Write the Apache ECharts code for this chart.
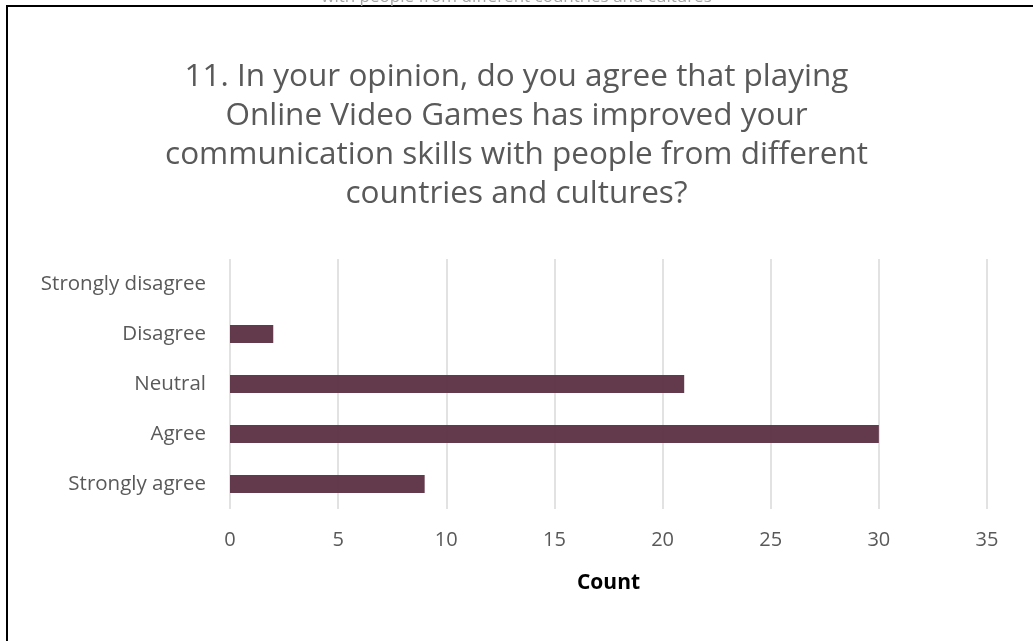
<!DOCTYPE html>
<html>
<head>
<meta charset="utf-8">
<script src="https://cdn.jsdelivr.net/npm/echarts@6/dist/echarts.min.js"></script>
<style>
  html, body { margin: 0; padding: 0; background: #fff; }
  #chart { width: 1033px; height: 641px; }
</style>
</head>
<body>
<div id="chart"></div>
<script>
// Survey responses, listed bottom-to-top on the category axis
const categories = ['Strongly agree', 'Agree', 'Neutral', 'Disagree', 'Strongly disagree'];
const counts = [9, 30, 21, 2, 0];
const xTicks = { min: 0, max: 35, interval: 5 };

const titleLines = [
  '11. In your opinion, do you agree that playing',
  'Online Video Games has improved your',
  'communication skills with people from different',
  'countries and cultures?'
];
const pageHeading = 'with people from different countries and cultures';
const axisName = 'Count';

const font = '"Open Sans", "Noto Sans", sans-serif';

const chart = echarts.init(document.getElementById('chart'), null, { renderer: 'canvas' });
chart.setOption({
  backgroundColor: '#ffffff',
  animation: false,
  title: {
    text: titleLines.join('\n'),
    left: 'center',
    top: 53,
    textStyle: {
      fontFamily: font,
      fontSize: 31.5,
      fontWeight: 'normal',
      color: '#595959',
      lineHeight: 39
    }
  },
  graphic: [
    {
      type: 'rect',
      shape: { x: 7, y: 6, width: 1100, height: 700 },
      style: { fill: 'none', stroke: '#000', lineWidth: 2 },
      silent: true
    },
    {
      type: 'text',
      left: 'center',
      top: -11,
      style: {
        text: pageHeading,
        fontFamily: font,
        fontSize: 17,
        fill: '#a6a6a6'
      },
      silent: true
    }
  ],
  grid: { left: 230, right: 46, top: 259, bottom: 132, containLabel: false },
  xAxis: {
    type: 'value',
    min: xTicks.min,
    max: xTicks.max,
    interval: xTicks.interval,
    name: axisName,
    nameLocation: 'middle',
    nameGap: 64,
    nameTextStyle: { fontFamily: font, fontSize: 21, fontWeight: 'bold', color: '#000' },
    axisLine: { show: false },
    axisTick: { show: false },
    axisLabel: { fontFamily: font, fontSize: 20, color: '#595959', margin: 21 },
    splitLine: { show: true, lineStyle: { color: '#d9d9d9', width: 1.5 } }
  },
  yAxis: {
    type: 'category',
    data: categories,
    axisLine: { show: false },
    axisTick: { show: false },
    axisLabel: { fontFamily: font, fontSize: 20.5, color: '#595959', margin: 24 },
    splitLine: { show: false }
  },
  series: [{
    type: 'bar',
    data: counts,
    barWidth: 18,
    itemStyle: { color: '#5e3445', opacity: 0.97 }
  }]
});
</script>
</body>
</html>
